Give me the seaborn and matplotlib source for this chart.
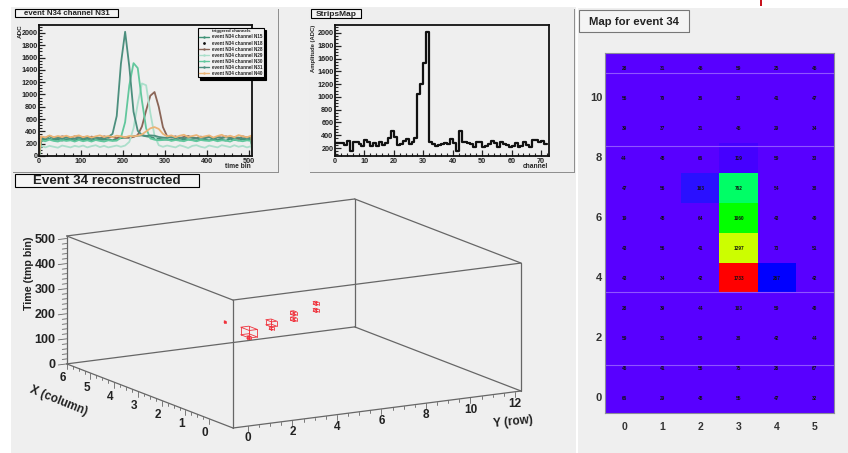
import numpy as np
import pandas as pd
import matplotlib
matplotlib.use('Agg')
import matplotlib.pyplot as plt
import seaborn as sns
from matplotlib.colors import LinearSegmentedColormap
from matplotlib.lines import Line2D
from matplotlib.patches import Rectangle
from matplotlib.ticker import MultipleLocator
from mpl_toolkits.mplot3d import proj3d

# waveforms of the triggered channels
time_bins = [0] + list(range(5, 510, 10)) + [510]
n15 = [0, 265, 270, 280, 260, 265, 250, 270, 265, 255, 270, 260, 265, 255, 270, 260, 265, 270, 255, 280, 290, 300, 310, 320, 330,
       335, 320, 310, 290, 280, 270, 265, 260, 270, 255, 265, 270, 260, 250, 270, 265, 255, 270, 260, 265, 250, 280, 260, 255, 270, 265, 260, 0]
n18 = [0, 300, 310, 295, 305, 315, 300, 290, 310, 300, 295, 305, 300, 310, 290, 305, 300, 310, 295, 300, 305, 310, 300, 295, 310,
       305, 300, 310, 295, 305, 300, 310, 290, 305, 300, 295, 310, 300, 305, 290, 300, 310, 295, 305, 300, 310, 295, 300, 305, 290, 300, 310, 0]
n28 = [0, 310, 295, 325, 300, 290, 320, 305, 295, 320, 300, 310, 290, 315, 300, 285, 320, 300, 310, 290, 315, 300, 295, 310, 340,
       480, 740, 980, 1040, 800, 470, 320, 300, 320, 290, 310, 325, 300, 290, 315, 300, 325, 285, 310, 300, 320, 295, 310, 280, 320, 300, 290, 0]
n29 = [0, 170, 140, 165, 150, 135, 170, 155, 140, 165, 150, 170, 140, 160, 175, 145, 165, 140, 155, 170, 150, 170, 230, 450, 850,
       1180, 1150, 700, 330, 175, 150, 170, 155, 140, 175, 155, 130, 165, 175, 150, 135, 170, 155, 140, 175, 160, 145, 175, 150, 165, 140, 160, 0]
n30 = [0, 255, 240, 265, 245, 235, 260, 245, 255, 235, 260, 240, 255, 235, 260, 245, 235, 255, 245, 250, 300, 550, 1150, 1510, 1430,
       900, 450, 285, 265, 255, 260, 270, 245, 260, 250, 240, 265, 255, 240, 260, 250, 245, 260, 240, 255, 250, 235, 265, 250, 240, 255, 245, 0]
n31 = [0, 275, 290, 320, 285, 295, 280, 300, 290, 280, 300, 285, 295, 280, 300, 290, 280, 310, 360, 650, 1500, 2020, 1450, 720, 410,
       340, 325, 335, 330, 310, 300, 295, 305, 290, 300, 285, 305, 295, 285, 300, 290, 305, 280, 300, 290, 305, 285, 295, 300, 285, 295, 290, 0]
n40 = [0, 320, 300, 335, 305, 325, 310, 330, 305, 320, 335, 305, 325, 300, 320, 335, 310, 325, 305, 330, 320, 305, 325, 320, 330,
       350, 400, 450, 470, 440, 360, 320, 335, 305, 330, 345, 310, 325, 340, 305, 320, 335, 300, 325, 345, 310, 330, 305, 340, 320, 305, 330, 0]
channel_names = ['N15', 'N18', 'N28', 'N29', 'N30', 'N31', 'N40']
channel_values = [n15, n18, n28, n29, n30, n31, n40]
channel_colors = ['#3f9276', '#222222', '#8a6557', '#abdfcb', '#62c79d', '#4c8f7e', '#eab477']

# strips map
strip_adc = [280, 280, 280, 250, 310, 160, 300, 290, 270, 240, 330, 290, 240, 280, 240, 290, 250, 280, 360, 470, 370, 250, 270, 310,
             340, 260, 300, 350, 1040, 1200, 1530, 2020, 290, 270, 240, 250, 270, 280, 260, 340, 280, 160, 470, 300, 300, 280, 270, 220,
             290, 290, 210, 230, 260, 310, 280, 220, 290, 260, 250, 220, 230, 280, 220, 230, 300, 250, 210, 320, 320, 290, 310, 270]

# map, top row first
rows = [11, 10, 9, 8, 7, 6, 5, 4, 3, 2, 1, 0]
map_adc = [[28, 31, 45, 59, 25, 45],
           [56, 70, 36, 33, 41, 47],
           [39, 37, 31, 45, 29, 34],
           [44, 48, 66, 119, 59, 33],
           [47, 56, 163, 762, 54, 38],
           [19, 48, 64, 1060, 43, 49],
           [43, 56, 41, 1297, 73, 51],
           [43, 34, 42, 1733, 267, 42],
           [28, 39, 44, 103, 59, 40],
           [59, 31, 59, 38, 42, 44],
           [46, 41, 56, 75, 26, 67],
           [66, 29, 48, 55, 47, 32]]

# reconstructed hits: column, row, time bin and half sizes
hit_x = [2.78, 2.7, 2.7, 2.7, 2.7, 2.7, 2.7, 2.7, 2.7]
hit_y = [3, 4, 4, 5, 5, 6, 6, 7, 7]
hit_t = [243, 194, 172, 219, 198, 247, 223, 275, 247]
hit_w = [0.02, 0.18, 0.05, 0.12, 0.05, 0.07, 0.07, 0.06, 0.06]
hit_h = [3, 15, 5, 10, 5, 6, 6, 5, 5]

W, H = 848, 453
BG = '#efefef'

sns.set_theme(style='ticks')
plt.rcParams['font.family'] = ['Liberation Sans', 'DejaVu Sans']
plt.rcParams['font.weight'] = 'bold'

fig = plt.figure(figsize=(W / 100, H / 100), dpi=100, facecolor='white')


def box(x0, y0, x1, y1):
    return [x0 / W, 1 - y1 / H, (x1 - x0) / W, (y1 - y0) / H]


def rect(x0, y0, x1, y1, zorder=-1, **kw):
    fig.patches.append(Rectangle((x0 / W, 1 - y1 / H), (x1 - x0) / W, (y1 - y0) / H, transform=fig.transFigure, figure=fig, zorder=zorder, **kw))


def label(x, y, s, **kw):
    kw.setdefault('ha', 'center')
    kw.setdefault('va', 'center')
    kw.setdefault('fontweight', 'bold')
    kw.setdefault('zorder', 6)
    fig.text(x / W, 1 - y / H, s, **kw)


def pad(x0, y0, x1, y1):
    rect(x0 + 1, y0 + 1, x1 + 1, y1 + 1, fc='#8f8f8f', ec='none')
    rect(x0, y0, x1, y1, fc='#eeeeee', ec='none')


def title_box(x0, y0, x1, y1, s, size, edge='black'):
    rect(x0 + 1, y0 + 1, x1 + 1, y1 + 1, zorder=4, fc='#444444', ec='none')
    rect(x0, y0, x1, y1, zorder=5, fc='#f4f4f4', ec=edge, lw=0.8)
    label((x0 + x1) / 2, (y0 + y1) / 2 + 0.8, s, fontsize=size, color='#222222')


def root_axes(ax, xmaj, xmin, ymaj, ymin):
    ax.set_facecolor(BG)
    for s in ax.spines.values():
        s.set_visible(True)
        s.set_linewidth(1.3)
        s.set_color('#111111')
    ax.xaxis.set_major_locator(MultipleLocator(xmaj))
    ax.xaxis.set_minor_locator(MultipleLocator(xmin))
    ax.yaxis.set_major_locator(MultipleLocator(ymaj))
    ax.yaxis.set_minor_locator(MultipleLocator(ymin))
    ax.tick_params(which='major', direction='in', length=4, width=0.9, labelsize=5.2, pad=1.2, colors='#222222')
    ax.tick_params(which='minor', direction='in', length=2, width=0.8)
    ax.set_xlabel('')
    ax.set_ylabel('')


# backgrounds
rect(11, 7, 576, 453, zorder=-3, fc=BG, ec='none')
rect(578, 8, 848, 453, zorder=-3, fc=BG, ec='none')
rect(760, 0, 762, 6, fc='#c8141e', ec='none')
pad(12, 8, 278, 172)
pad(309, 8, 574, 172)

# waveforms
df = pd.DataFrame({'time': time_bins * len(channel_names),
                   'adc': sum(channel_values, []),
                   'channel': [c for c in channel_names for t in time_bins]})
ax1 = fig.add_axes(box(39, 25, 252, 156))
sns.lineplot(data=df, x='time', y='adc', hue='channel', hue_order=channel_names,
             palette=dict(zip(channel_names, channel_colors)), estimator=None, sort=False, lw=1.3, legend=False, ax=ax1)
ax1.lines[1].set_visible(False)
ax1.set_xlim(0, 507)
ax1.set_ylim(0, 2130)
root_axes(ax1, 100, 20, 200, 50)
handles = [Line2D([], [], color=c, lw=1, marker='.', ms=1.5) for c in channel_colors]
handles[1] = Line2D([], [], color='none', marker='.', ms=2, mfc='#111111', mec='#111111')
leg = ax1.legend(handles, ['event N34 channel ' + c for c in channel_names], title='triggered channels',
                 title_fontsize=3.2, fontsize=3.3, loc='upper left', bbox_to_anchor=(198 / W, 1 - 28 / H),
                 bbox_transform=fig.transFigure, fancybox=False, framealpha=1, facecolor='#f2f2f2', edgecolor='black',
                 labelspacing=0.24, handlelength=2.2, handletextpad=0.5, borderpad=0.3, borderaxespad=0,
                 shadow={'color': 'black', 'alpha': 1, 'ox': 1.5, 'oy': -1.5})
leg.get_frame().set_linewidth(0.8)
title_box(15, 9, 118, 17, 'event N34 channel N31', 5.7)
label(238, 167, 'time bin', fontsize=4.8)
label(20, 31, 'ADC', fontsize=4.6, rotation=90)

# strips
ax2 = fig.add_axes(box(335, 25, 549, 156))
strip_df = pd.DataFrame({'channel': np.arange(len(strip_adc)) + 0.5, 'adc': strip_adc})
sns.histplot(data=strip_df, x='channel', weights='adc', bins=len(strip_adc), binrange=(0, len(strip_adc)), element='step',
             fill=False, color='#111111', lw=1.6, ax=ax2)
ax2.set_xlim(0, 72.7)
ax2.set_ylim(76, 2124)
root_axes(ax2, 10, 2, 200, 50)
title_box(311, 9, 361, 18, 'StripsMap', 6)
label(535, 167, 'channel', fontsize=4.8)
label(314, 48, 'Amplitude (ADC)', fontsize=4.2, rotation=90)

# map for the event
map_cmap = LinearSegmentedColormap.from_list('root', [(0, '#5800ff'), (0.06, '#5800ff'), (0.069, '#3f00ff'), (0.094, '#2a10ff'),
                                                      (0.154, '#0000ff'), (0.44, '#00ff66'),
                                                      (0.61, '#00ff00'), (0.748, '#ccff00'), (1, '#ff0000')])
ax3 = fig.add_axes(box(605, 53, 834, 413))
map_df = pd.DataFrame(map_adc, index=rows, columns=range(6))
sns.heatmap(map_df, annot=True, fmt='d', cmap=map_cmap, vmin=0, vmax=1733, cbar=False, ax=ax3,
            annot_kws={'fontsize': 3.4, 'fontweight': 'bold', 'color': '#111111'})
ax3.set_xticks(np.arange(6) + 0.5, range(6))
ax3.set_yticks([r + 0.5 for r, v in enumerate(rows) if v % 2 == 0], [v for v in rows if v % 2 == 0])
ax3.set_yticks(np.arange(0.5, 12.5, 0.5), minor=True)
ax3.set_xticks(np.arange(0.1, 6, 0.2), minor=True)
ax3.tick_params(axis='x', which='major', direction='in', length=8, width=0.7, pad=6.5, labelsize=7.5, labelcolor='#333333', rotation=0)
ax3.tick_params(axis='x', which='minor', direction='in', length=4, width=0.7)
ax3.tick_params(axis='y', which='major', direction='in', length=5, width=0.7, pad=2, labelsize=8, labelcolor='#333333', rotation=0)
ax3.tick_params(axis='y', which='minor', direction='in', length=2.5, width=0.7)
ax3.set_xlabel('')
ax3.set_ylabel('')
for s in ax3.spines.values():
    s.set_visible(True)
    s.set_linewidth(0.8)
    s.set_color('#8b8b9b')
for r in [0.67, 3.1, 7.97, 10.4]:
    ax3.axhline(r, color='#8f55ff', lw=0.8)
title_box(579, 10, 689, 32, 'Map for event 34', 8.2, edge='#777777')

# reconstructed event
x_lim = (6, -1)
y_lim = (-0.67, 12.27)
z_lim = (0, 510)
ax4 = fig.add_axes(box(100, 60, 500, 460), projection='3d')
ax4.set_proj_type('ortho')
ax4.view_init(elev=12.86, azim=-30)
ax4.set_box_aspect((1, 1, 131 / 332))
ax4.set_xlim(*x_lim)
ax4.set_ylim(*y_lim)
ax4.set_zlim(*z_lim)
ax4.set_autoscale_on(False)
ax4.set_axis_off()
ax4.patch.set_alpha(0)


def to_px(x, y, z):
    a, b, _ = proj3d.proj_transform(x, y, z, ax4.get_proj())
    return ax4.transData.transform((a, b))


# fit the square 3D axes so the corners sit where the reference has them
side = 400.0
left, top = 100.0, 60.0
for i in range(3):
    p0 = to_px(x_lim[1], y_lim[0], z_lim[0])
    p1 = to_px(x_lim[1], y_lim[1], z_lim[0])
    side = side * 288 / (p1[0] - p0[0])
    ax4.set_position(box(left, top, left + side, top + side))
    p0 = to_px(x_lim[1], y_lim[0], z_lim[0])
    left += 233 - p0[0]
    top += 428 - (H - p0[1])
    ax4.set_position(box(left, top, left + side, top + side))


def label3d(x, y, z, s, **kw):
    p = to_px(x, y, z)
    label(p[0], H - p[1], s, color='#222222', **kw)


edge = '#666666'
x0, x1 = x_lim[1], x_lim[0]
y0, y1 = y_lim
for a in (x0, x1):
    for b in (y0, y1):
        ax4.plot([a, a], [b, b], z_lim, color=edge, lw=0.9)
for z in z_lim:
    ax4.plot([x0, x1], [y0, y0], [z, z], color=edge, lw=0.9)
    ax4.plot([x0, x1], [y1, y1], [z, z], color=edge, lw=0.9)
    ax4.plot([x0, x0], [y0, y1], [z, z], color=edge, lw=0.9)
    ax4.plot([x1, x1], [y0, y1], [z, z], color=edge, lw=0.9)

# ticks and tick labels
for v in np.arange(0, 510, 20):
    ax4.plot([x1, x1], [y0, y0 - (0.38 if v % 100 == 0 else 0.2)], [v, v], color=edge, lw=0.6)
for v in range(0, 600, 100):
    label3d(x1, y0 - 0.5, v, str(v), ha='right', fontsize=9)
for v in np.arange(0, 6.01, 0.25):
    ax4.plot([v, v], [y0, y0], [0, -22 if v % 1 == 0 else -11], color=edge, lw=0.6)
for v in range(7):
    label3d(v, y0 - 0.18, -56, str(v), fontsize=8.5)
for v in np.arange(0, 12.01, 0.5):
    ax4.plot([x0, x0], [v, v], [0, -22 if v % 2 == 0 else -11], color=edge, lw=0.6)
for v in range(0, 14, 2):
    label3d(x0, v, -48, str(v), fontsize=8.5)

# hits as little wire boxes
for hx, hy, ht, hw, hh in zip(hit_x, hit_y, hit_t, hit_w, hit_h):
    a0, a1, b0, b1, c0, c1 = hx - hw, hx + hw, hy - hw, hy + hw, ht - hh, ht + hh
    for c in (c0, c1):
        ax4.plot([a0, a1, a1, a0, a0], [b0, b0, b1, b1, b0], [c, c, c, c, c], color='#f0323c', lw=0.6)
    for a, b in ((a0, b0), (a1, b0), (a1, b1), (a0, b1)):
        ax4.plot([a, a], [b, b], [c0, c1], color='#f0323c', lw=0.6)

title_box(15, 174, 199, 187, 'Event 34 reconstructed', 9.6)
label(29, 273, 'Time (tmp bin)', fontsize=7.7, rotation=90, color='#222222')
label(59, 401, 'X (column)', fontsize=8.5, rotation=-22, color='#222222')
label(513, 422, 'Y (row)', fontsize=8.5, rotation=6, color='#222222')

fig.savefig('out.png', dpi=100, facecolor='white')
